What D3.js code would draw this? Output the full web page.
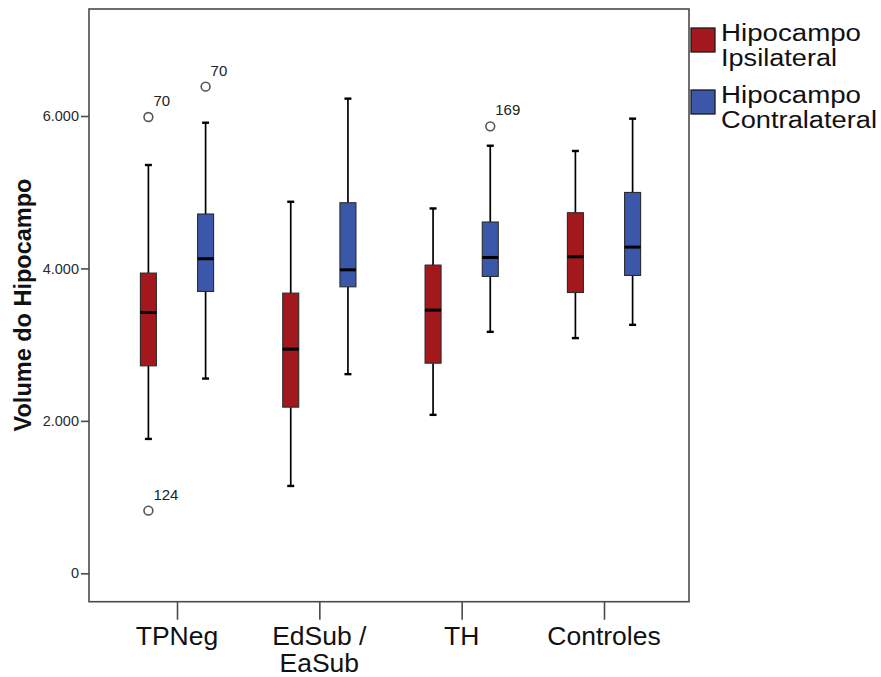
<!DOCTYPE html>
<html>
<head>
<meta charset="utf-8">
<script src="https://cdn.jsdelivr.net/npm/d3@7"></script>
<style>
  html, body { margin: 0; padding: 0; background: #fff; }
  svg { display: block; font-family: "Liberation Sans", Arial, sans-serif; }
</style>
</head>
<body>
<svg id="chart" width="881" height="677"></svg>
<script>
// ---- data ----
const categories = ["TPNeg", "EdSub / EaSub", "TH", "Controles"];
const categoryLines = [["TPNeg"], ["EdSub /", "EaSub"], ["TH"], ["Controles"]];
const seriesNames = ["Hipocampo Ipsilateral", "Hipocampo Contralateral"];
const seriesLegendLines = [["Hipocampo", "Ipsilateral"], ["Hipocampo", "Contralateral"]];
const seriesColors = ["#a3181c", "#3b57a9"];

// [whiskerLow, Q1, median, Q3, whiskerHigh] per category
const ipsilateral = [
  [1763, 2722, 3422, 3939, 5357],
  [1146, 2180, 2941, 3676, 4875],
  [2079, 2757, 3453, 4044, 4787],
  [3086, 3684, 4153, 4731, 5541]
];
const contralateral = [
  [2555, 3698, 4127, 4714, 5912],
  [2613, 3759, 3982, 4862, 6228],
  [3168, 3895, 4144, 4609, 5610],
  [3260, 3908, 4280, 4997, 5965]
];
// outliers: category, series index, value, case label
const outlierCats = ["TPNeg", "TPNeg", "TPNeg", "TH"];
const outlierSeries = [0, 0, 1, 1];
const outlierValues = [5987, 822, 6385, 5864];
const outlierLabels = ["70", "124", "70", "169"];

const yTicks = [0, 2000, 4000, 6000];
const yTickLabels = ["0", "2.000", "4.000", "6.000"];
const yTitle = "Volume do Hipocampo";

// ---- layout ----
const frame = { left: 89, right: 689, top: 9, bottom: 601.7 };
const svg = d3.select("#chart");

const y = d3.scaleLinear().domain([0, 6000]).range([573.3, 116]);
const x = d3.scalePoint().domain(categories).range([177, 604]);
const xs = d3.scalePoint().domain([0, 1]).range([-28.6, 28.6]);
const boxW = 16;
const capW = 7;

// frame
svg.append("rect")
  .attr("x", frame.left).attr("y", frame.top)
  .attr("width", frame.right - frame.left).attr("height", frame.bottom - frame.top)
  .attr("fill", "none").attr("stroke", "#4a4a4a").attr("stroke-width", 1.6);

// y axis
const yAxis = d3.axisLeft(y).tickValues(yTicks)
  .tickFormat((d, i) => yTickLabels[i]).tickSize(8).tickPadding(2);
const gy = svg.append("g").attr("transform", `translate(${frame.left},0)`).call(yAxis);
gy.select(".domain").remove();
gy.selectAll(".tick line").attr("stroke", "#4a4a4a").attr("stroke-width", 1.6);
gy.selectAll(".tick text").attr("font-size", 14.5).attr("fill", "#2a2a2a")
  .attr("font-family", "'Liberation Sans', Arial, sans-serif");

// y title
svg.append("text")
  .attr("transform", `translate(31,305) rotate(-90)`)
  .attr("text-anchor", "middle")
  .attr("font-size", 23.5).attr("font-weight", "bold").attr("fill", "#111")
  .text(yTitle);

// x axis
const xAxis = d3.axisBottom(x).tickSize(18).tickFormat("");
const gx = svg.append("g").attr("transform", `translate(0,${frame.bottom})`).call(xAxis);
gx.select(".domain").remove();
gx.selectAll(".tick line").attr("stroke", "#4a4a4a").attr("stroke-width", 1.6);

categories.forEach((c, i) => {
  categoryLines[i].forEach((line, j) => {
    svg.append("text")
      .attr("x", x(c)).attr("y", 645 + j * 26.5)
      .attr("text-anchor", "middle")
      .attr("font-size", 26.5).attr("fill", "#111")
      .text(line);
  });
});

// boxes
const allSeries = [ipsilateral, contralateral];
const boxData = [];
allSeries.forEach((arr, s) => {
  arr.forEach((v, ci) => boxData.push({ cat: categories[ci], s, v }));
});

const g = svg.append("g");
const bx = d => x(d.cat) + xs(d.s);

// whiskers
g.selectAll("line.wlow").data(boxData).join("line")
  .attr("x1", bx).attr("x2", bx)
  .attr("y1", d => y(d.v[0])).attr("y2", d => y(d.v[1]))
  .attr("stroke", "#000").attr("stroke-width", 1.7);
g.selectAll("line.whigh").data(boxData).join("line")
  .attr("x1", bx).attr("x2", bx)
  .attr("y1", d => y(d.v[3])).attr("y2", d => y(d.v[4]))
  .attr("stroke", "#000").attr("stroke-width", 1.7);
// caps
[0, 4].forEach(k => {
  g.selectAll("line.cap" + k).data(boxData).join("line")
    .attr("x1", d => bx(d) - capW / 2).attr("x2", d => bx(d) + capW / 2)
    .attr("y1", d => y(d.v[k])).attr("y2", d => y(d.v[k]))
    .attr("stroke", "#000").attr("stroke-width", 2.4);
});
// box
g.selectAll("rect.box").data(boxData).join("rect")
  .attr("x", d => bx(d) - boxW / 2).attr("width", boxW)
  .attr("y", d => y(d.v[3])).attr("height", d => y(d.v[1]) - y(d.v[3]))
  .attr("fill", d => seriesColors[d.s])
  .attr("stroke", "#2b2b2b").attr("stroke-width", 1.1);
// median
g.selectAll("line.med").data(boxData).join("line")
  .attr("x1", d => bx(d) - boxW / 2).attr("x2", d => bx(d) + boxW / 2)
  .attr("y1", d => y(d.v[2])).attr("y2", d => y(d.v[2]))
  .attr("stroke", "#000").attr("stroke-width", 3);

// outliers
const outliers = outlierValues.map((v, i) => ({ cat: outlierCats[i], s: outlierSeries[i], v, label: outlierLabels[i] }));
g.selectAll("circle.out").data(outliers).join("circle")
  .attr("cx", bx).attr("cy", d => y(d.v)).attr("r", 4.4)
  .attr("fill", "#fff").attr("stroke", "#555").attr("stroke-width", 1.6);
g.selectAll("text.outl").data(outliers).join("text")
  .attr("x", d => bx(d) + 5).attr("y", d => y(d.v) - 11)
  .attr("font-size", 15).attr("fill", "#222")
  .text(d => d.label);

// legend
const legendY = [28, 90];
seriesNames.forEach((name, s) => {
  svg.append("rect")
    .attr("x", 691).attr("y", legendY[s]).attr("width", 24).attr("height", 24)
    .attr("fill", seriesColors[s]).attr("stroke", "#1a1a1a").attr("stroke-width", 1.3);
  const lens = s === 0 ? [140, 116] : [140, 156];
  seriesLegendLines[s].forEach((line, j) => {
    svg.append("text")
      .attr("x", 721).attr("y", legendY[s] + 12.5 + j * 25)
      .attr("font-size", 23.5).attr("fill", "#111")
      .attr("textLength", lens[j]).attr("lengthAdjust", "spacingAndGlyphs")
      .text(line);
  });
});
</script>
</body>
</html>
